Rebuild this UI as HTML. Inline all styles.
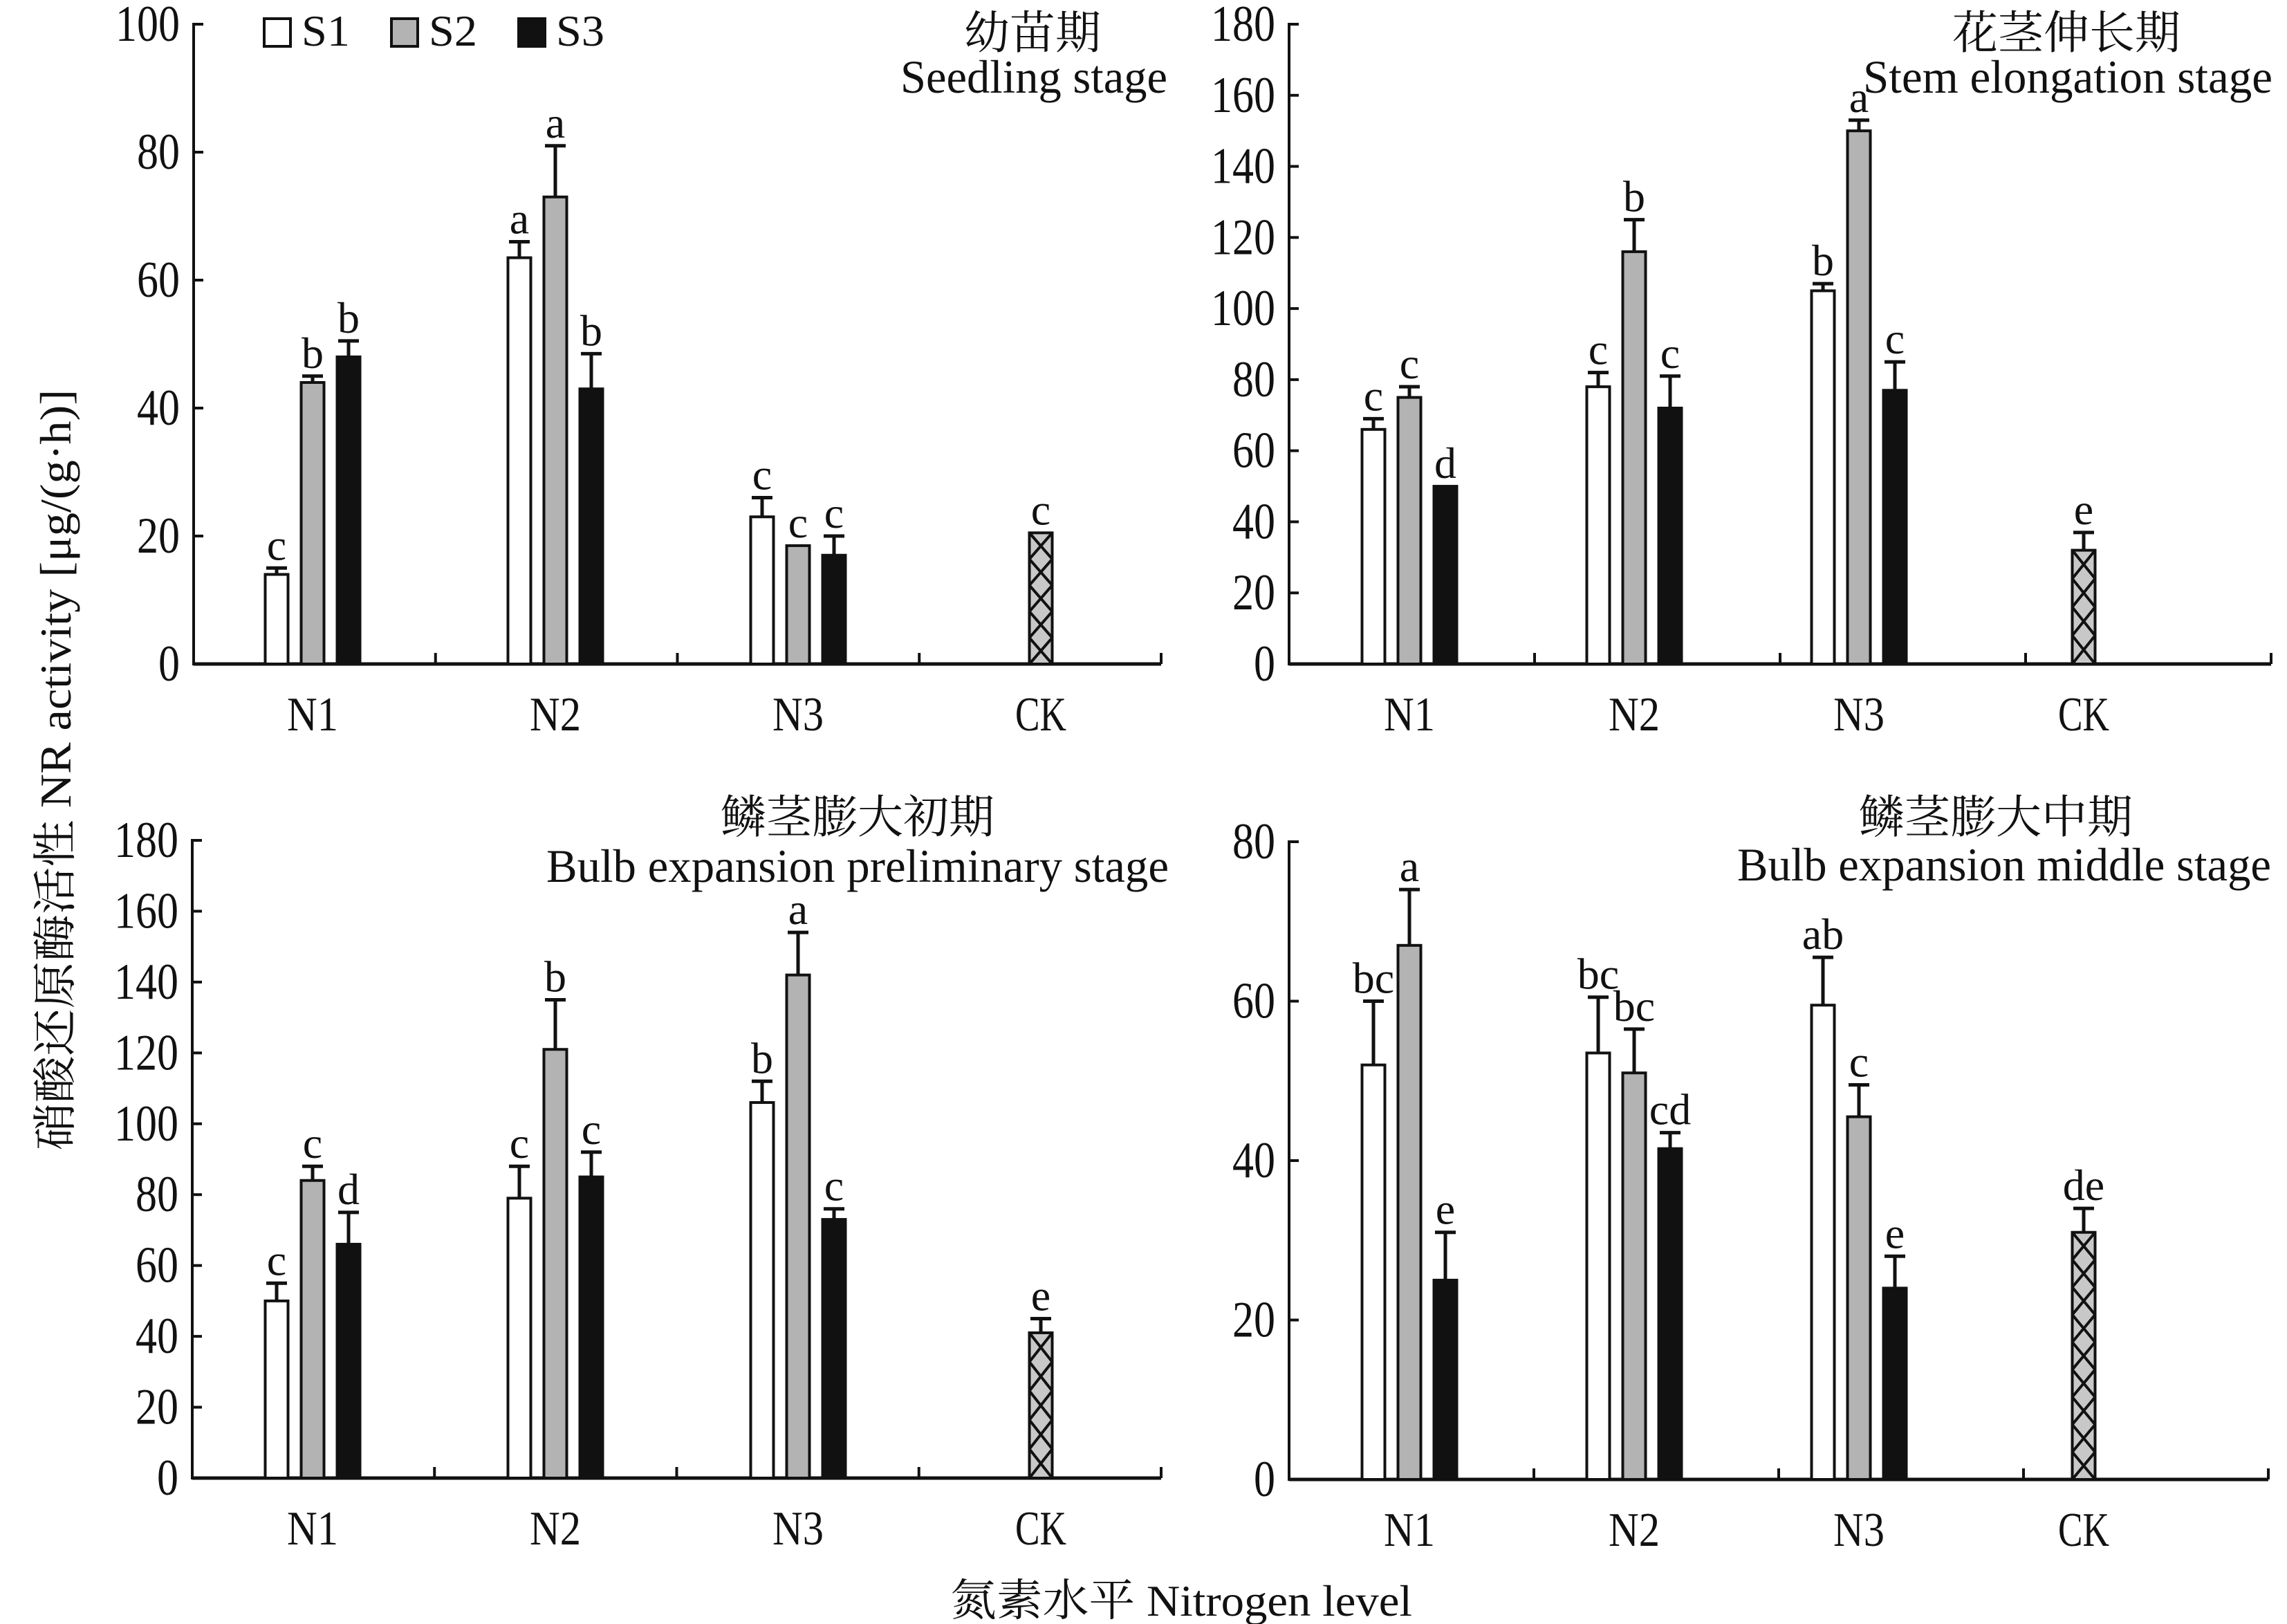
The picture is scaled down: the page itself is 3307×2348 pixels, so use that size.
<!DOCTYPE html>
<html><head><meta charset="utf-8"><style>
html,body{margin:0;padding:0;background:#fff}
svg{display:block}
text{font-family:"Liberation Serif","Noto Serif CJK SC","Noto Sans CJK SC",serif;fill:#111}
</style></head><body>
<svg id="chart" xmlns="http://www.w3.org/2000/svg" width="3307" height="2348" viewBox="0 0 3307 2348">
<defs id="defs"></defs>
<g id="root"></g>
<text x="0" y="0" transform="translate(102,1113) rotate(-90)" text-anchor="middle" font-size="64" textLength="1100" lengthAdjust="spacingAndGlyphs">硝酸还原酶活性 NR activity [μg/(g·h)]</text>
<text x="1708" y="2336" text-anchor="middle" font-size="64" textLength="668" lengthAdjust="spacingAndGlyphs">氮素水平 Nitrogen level</text>
<g>
<rect x="382" y="27" width="38" height="40" fill="#fff" stroke="#111" stroke-width="4"/>
<text x="436" y="66" font-size="64" textLength="70" lengthAdjust="spacingAndGlyphs">S1</text>
<rect x="566" y="27" width="38" height="40" fill="#b3b3b3" stroke="#111" stroke-width="4"/>
<text x="620" y="66" font-size="64" textLength="70" lengthAdjust="spacingAndGlyphs">S2</text>
<rect x="750" y="27" width="38" height="40" fill="#111" stroke="#111" stroke-width="4"/>
<text x="804" y="66" font-size="64" textLength="70" lengthAdjust="spacingAndGlyphs">S3</text>
</g>
</svg>
<script>
const categories = ["N1","N2","N3","CK"];
// Panel 1: Seedling stage
const p1S1 = [14, 63.5, 23];
const p1S2 = [44, 73, 18.5];
const p1S3 = [48, 43, 17];
const p1CK = [20.5];
const p1S1Err = [1, 2.5, 3];
const p1S2Err = [1, 8, 0];
const p1S3Err = [2.5, 5.5, 3];
const p1CKErr = [0];
const p1Letters = [["c","b","b"],["a","a","b"],["c","c","c"],["c"]];
const p1Ticks = [0,20,40,60,80,100];
// Panel 2: Stem elongation stage
const p2S1 = [66, 78, 105];
const p2S2 = [75, 116, 150];
const p2S3 = [50, 72, 77];
const p2CK = [32];
const p2S1Err = [3, 4, 2];
const p2S2Err = [3, 9, 3];
const p2S3Err = [0, 9, 8];
const p2CKErr = [5];
const p2Letters = [["c","c","d"],["c","b","c"],["b","a","c"],["e"]];
const p2Ticks = [0,20,40,60,80,100,120,140,160,180];
// Panel 3: Bulb expansion preliminary stage
const p3S1 = [50, 79, 106];
const p3S2 = [84, 121, 142];
const p3S3 = [66, 85, 73];
const p3CK = [41];
const p3S1Err = [5, 9, 6];
const p3S2Err = [4, 14, 12];
const p3S3Err = [9, 7, 3];
const p3CKErr = [4];
const p3Letters = [["c","c","d"],["c","b","c"],["b","a","c"],["e"]];
const p3Ticks = [0,20,40,60,80,100,120,140,160,180];
// Panel 4: Bulb expansion middle stage
const p4S1 = [52, 53.5, 59.5];
const p4S2 = [67, 51, 45.5];
const p4S3 = [25, 41.5, 24];
const p4CK = [31];
const p4S1Err = [8, 7, 6];
const p4S2Err = [7, 5.5, 4];
const p4S3Err = [6, 2, 4];
const p4CKErr = [3];
const p4Letters = [["bc","a","e"],["bc","bc","cd"],["ab","c","e"],["de"]];
const p4Ticks = [0,20,40,60,80];

const NS = "http://www.w3.org/2000/svg";
const root = document.getElementById("root");
function mk(tag, attrs, parent){const e=document.createElementNS(NS,tag);for(const k in attrs)e.setAttribute(k,attrs[k]);(parent||root).appendChild(e);return e;}

const panels = [
 {id:"seedling", x0:280, x1:1679, c0:452, cs:351, y0:960, yTop:35, max:100, ticks:p1Ticks, s:[p1S1,p1S2,p1S3], e:[p1S1Err,p1S2Err,p1S3Err], ck:p1CK, ckE:p1CKErr, L:p1Letters, cn:"幼苗期", en:"Seedling stage", cnX:1493, cnY:70, enR:1688, enY:134, enLen:386},
 {id:"stem", x0:1864, x1:3284, c0:2038, cs:325, y0:960, yTop:35, max:180, ticks:p2Ticks, s:[p2S1,p2S2,p2S3], e:[p2S1Err,p2S2Err,p2S3Err], ck:p2CK, ckE:p2CKErr, L:p2Letters, cn:"花茎伸长期", en:"Stem elongation stage", cnX:2988, cnY:70, enR:3286, enY:134, enLen:592},
 {id:"bulb-early", x0:278, x1:1679, c0:452, cs:351, y0:2137, yTop:1215, max:180, ticks:p3Ticks, s:[p3S1,p3S2,p3S3], e:[p3S1Err,p3S2Err,p3S3Err], ck:p3CK, ckE:p3CKErr, L:p3Letters, cn:"鳞茎膨大初期", en:"Bulb expansion preliminary stage", cnX:1240, cnY:1204, enR:1690, enY:1275, enLen:900},
 {id:"bulb-middle", x0:1864, x1:3280, c0:2038, cs:325, y0:2139, yTop:1217, max:80, ticks:p4Ticks, s:[p4S1,p4S2,p4S3], e:[p4S1Err,p4S2Err,p4S3Err], ck:p4CK, ckE:p4CKErr, L:p4Letters, cn:"鳞茎膨大中期", en:"Bulb expansion middle stage", cnX:2886, cnY:1204, enR:3284, enY:1273, enLen:772}
];
const fills = ["#ffffff","#b3b3b3","#111111"];
const BW = 33, SP = 52;

panels.forEach((p) => {
  const g = mk("g", {});
  
  
  const yS = v => p.y0 - (v / p.max) * (p.y0 - p.yTop);
  const xC = i => p.c0 + p.cs * i;
  const slot = (p.x1 - p.x0) / 4;
  p.ticks.forEach(t => {
    const y = yS(t);
    const tk = mk("line", {x1:p.x0, x2:p.x0+14, y1:y, y2:y, stroke:"#111", "stroke-width":4}, g);
    
    
    const tl = mk("text", {x:p.x0-20, y:y+24, "text-anchor":"end", "font-size":74}, g);
    
    
    tl.setAttribute('textLength', String(String(t).length * 31));
    tl.setAttribute('lengthAdjust', 'spacingAndGlyphs');
    tl.textContent = t;
  });
  const ya = mk("line", {x1:p.x0, x2:p.x0, y1:p.yTop-2, y2:p.y0+2, stroke:"#111", "stroke-width":4}, g);
  
  
  const xa = mk("line", {x1:p.x0, x2:p.x1, y1:p.y0, y2:p.y0, stroke:"#111", "stroke-width":5}, g);
  
  
  for (let i = 1; i <= 4; i++) {
    const x = p.x0 + slot * i;
    const ct = mk("line", {x1:x, x2:x, y1:p.y0, y2:p.y0-16, stroke:"#111", "stroke-width":4}, g);
    
    
  }
  categories.forEach((c, i) => {
    const cl = mk("text", {x:xC(i), y:p.y0+96, "text-anchor":"middle", "font-size":70, textLength:74, lengthAdjust:"spacingAndGlyphs"}, g);
    
    
    cl.textContent = c;
  });
  function bar(cx, v, err, fill, letter, isCK) {
    const y = yS(v), yE = yS(v + err);
    if (err > 0) {
      const eb = mk("path", {d:`M${cx} ${y} V${yE} M${cx-15} ${yE} H${cx+15}`, stroke:"#111", "stroke-width":5, fill:"none"}, g);
      
      
    }
    const r = mk("rect", {x:cx-BW/2, y:y, width:BW, height:p.y0-y, fill:fill, stroke:"#111", "stroke-width":4}, g);
    
    
    if (isCK) {
      const n = Math.max(1, Math.round((p.y0 - y) / 42));
      const h = (p.y0 - y) / n;
      let d = "";
      for (let k = 0; k < n; k++) {
        const yt = y + k*h;
        d += `M${cx-BW/2} ${yt} L${cx+BW/2} ${yt+h} M${cx+BW/2} ${yt} L${cx-BW/2} ${yt+h} `;
      }
      const hp = mk("path", {d:d, stroke:"#111", "stroke-width":4, fill:"none"}, g);
      
      
    }
    const lt = mk("text", {x:cx, y:yE-12, "text-anchor":"middle", "font-size":64}, g);
    
    
    lt.textContent = letter;
  }
  for (let i = 0; i < 3; i++) {
    for (let s = 0; s < 3; s++) {
      bar(xC(i) + (s-1)*SP, p.s[s][i], p.e[s][i], fills[s], p.L[i][s], false);
    }
  }
  bar(xC(3), p.ck[0], p.ckE[0], "#c8c8c8", p.L[3][0], true);
  const cn = mk("text", {x:p.cnX, y:p.cnY, "text-anchor":"middle", "font-size":66}, g);
  
  
  cn.textContent = p.cn;
  const en = mk("text", {x:p.enR, y:p.enY, "text-anchor":"end", "font-size":68, textLength:p.enLen, lengthAdjust:"spacingAndGlyphs"}, g);
  
  
  en.textContent = p.en;
});
</script>
</body></html>
